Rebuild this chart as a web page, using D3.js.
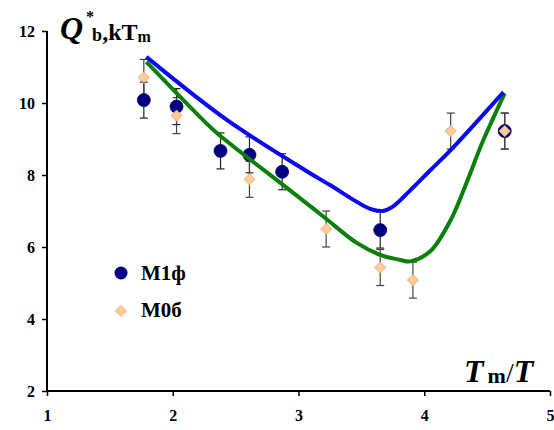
<!DOCTYPE html>
<html><head><meta charset="utf-8">
<script src="https://cdn.jsdelivr.net/npm/d3@7"></script>
<style>body{margin:0;background:#fff}svg{display:block}</style>
</head><body>
<script>
// ---- data ----
const xTicks = [1, 2, 3, 4, 5];
const yTicks = [2, 4, 6, 8, 10, 12];
const m1fX = [1.77, 2.03, 2.38, 2.61, 2.87, 3.65, 4.64];
const m1fY = [10.08, 9.90, 8.67, 8.56, 8.09, 6.47, 9.22];
const m1fErr = [0.5, 0.5, 0.5, 0.5, 0.5, 0.5, 0.5];
const m0bX = [1.77, 2.03, 2.61, 3.22, 3.65, 3.91, 4.21, 4.64];
const m0bY = [10.71, 9.65, 7.88, 6.50, 5.43, 5.08, 9.22, 9.22];
const m0bErr = [0.5, 0.5, 0.5, 0.5, 0.5, 0.5, 0.5, 0.5];
const blueX = [1.79, 2.43, 3.05, 3.25, 3.57, 3.67, 3.75, 3.89, 4.05, 4.21, 4.63];
const blueY = [11.28, 9.53, 8.14, 7.72, 7.06, 7.00, 7.12, 7.58, 8.14, 8.69, 10.30];
const greenX = [1.79, 2.24, 2.36, 2.93, 3.20, 3.46, 3.65, 3.81, 3.89, 4.05, 4.21, 4.32, 4.47, 4.64];
const greenY = [11.14, 9.53, 9.14, 7.58, 6.84, 6.12, 5.78, 5.64, 5.60, 5.89, 6.75, 7.64, 8.97, 10.27];
const legendLabels = ["М1ф", "М0б"];

// ---- layout ----
const W = 554, H = 430;
const svg = d3.select("body").append("svg").attr("width", W).attr("height", H)
  .style("font-family", "'Liberation Serif','Times New Roman',serif");
const x = d3.scaleLinear().domain([1, 5]).range([47, 550]);
const y = d3.scaleLinear().domain([2, 12]).range([391, 31]);

// axes
const xAxis = svg.append("g").attr("transform", `translate(0,${y(2)})`)
  .call(d3.axisBottom(x).tickValues(xTicks).tickFormat(d3.format("d")).tickSize(5).tickPadding(14));
const yAxis = svg.append("g").attr("transform", `translate(${x(1)},0)`)
  .call(d3.axisLeft(y).tickValues(yTicks).tickFormat(d3.format("d")).tickSize(5).tickPadding(7));
[xAxis, yAxis].forEach(a => {
  a.select(".domain").attr("stroke", "#000").attr("stroke-width", 2);
  a.selectAll(".tick line").attr("stroke", "#000").attr("stroke-width", 1.5);
  a.selectAll(".tick text").attr("fill", "#000").attr("font-size", 16).attr("font-weight", "bold")
    .attr("font-family", "'Liberation Serif',serif");
});
xAxis.select(".domain").attr("d", `M${x(1)},0H${x(5)}`);
yAxis.select(".domain").attr("d", `M0,${y(2)}V${y(12)}`);

// error bars
function errBars(xs, ys, es, color) {
  const g = svg.append("g").attr("stroke", color).attr("stroke-width", 1.2);
  xs.forEach((xv, i) => {
    const cx = x(xv), y0 = y(ys[i] - es[i]), y1 = y(ys[i] + es[i]);
    g.append("line").attr("x1", cx).attr("x2", cx).attr("y1", y0).attr("y2", y1);
    g.append("line").attr("x1", cx - 4).attr("x2", cx + 4).attr("y1", y0).attr("y2", y0);
    g.append("line").attr("x1", cx - 4).attr("x2", cx + 4).attr("y1", y1).attr("y2", y1);
  });
}
errBars(m1fX, m1fY, m1fErr, "#222");
errBars(m0bX, m0bY, m0bErr, "#444");

// markers
const diamond = d3.symbol().type(d3.symbolDiamond2).size(80);
svg.append("g").selectAll("circle").data(m1fX).join("circle")
  .attr("cx", d => x(d)).attr("cy", (d, i) => y(m1fY[i])).attr("r", 6.5)
  .attr("fill", "#000080").attr("stroke", "#000060").attr("stroke-width", 0.8);
svg.append("g").selectAll("path").data(m0bX).join("path")
  .attr("d", diamond).attr("transform", (d, i) => `translate(${x(d)},${y(m0bY[i])})`)
  .attr("fill", "#FFCC99").attr("stroke", "#E0A870").attr("stroke-width", 0.8);

// lines
const line = d3.line().x(d => x(d[0])).y(d => y(d[1])).curve(d3.curveCatmullRom.alpha(0.5));
svg.append("path").datum(greenX.map((v, i) => [v, greenY[i]])).attr("d", line)
  .attr("fill", "none").attr("stroke", "#0A800A").attr("stroke-width", 4).attr("stroke-linejoin", "round");
svg.append("path").datum(blueX.map((v, i) => [v, blueY[i]])).attr("d", line)
  .attr("fill", "none").attr("stroke", "#0A0AF0").attr("stroke-width", 4).attr("stroke-linejoin", "round");

// legend
const lg = svg.append("g");
lg.append("circle").attr("cx", 121).attr("cy", 273).attr("r", 6.5).attr("fill", "#000080");
lg.append("path").attr("d", diamond).attr("transform", "translate(121,311)")
  .attr("fill", "#FFCC99").attr("stroke", "#E0A870").attr("stroke-width", 0.8);
lg.selectAll("text").data(legendLabels).join("text")
  .attr("x", 141).attr("y", (d, i) => 280 + i * 37).text(d => d)
  .style("font-size", "21px").style("font-weight", "bold");

// y-axis title
const yt = svg.append("text").attr("x", 60).attr("y", 39).style("font-weight", "bold");
yt.append("tspan").text("Q").style("font-style", "italic").style("font-size", "32px");
yt.append("tspan").text("*").attr("dx", 3).attr("dy", -17).style("font-size", "16px");
yt.append("tspan").text("b").attr("dx", -2).attr("dy", 19).style("font-size", "18px");
yt.append("tspan").text(",kT").attr("dy", -1).style("font-size", "24px");
yt.append("tspan").text("m").attr("dy", 2).style("font-size", "16px");

// x-axis title
const xt = svg.append("text").attr("x", 464).attr("y", 382).style("font-weight", "bold");
xt.append("tspan").text("T").style("font-style", "italic").style("font-size", "32px");
xt.append("tspan").text("m").attr("dx", 4).attr("dy", 1).style("font-size", "22px");
xt.append("tspan").text("/").attr("dy", -1).style("font-size", "28px").style("font-weight", "normal");
xt.append("tspan").text("T").style("font-style", "italic").style("font-size", "32px");
</script>
</body></html>
